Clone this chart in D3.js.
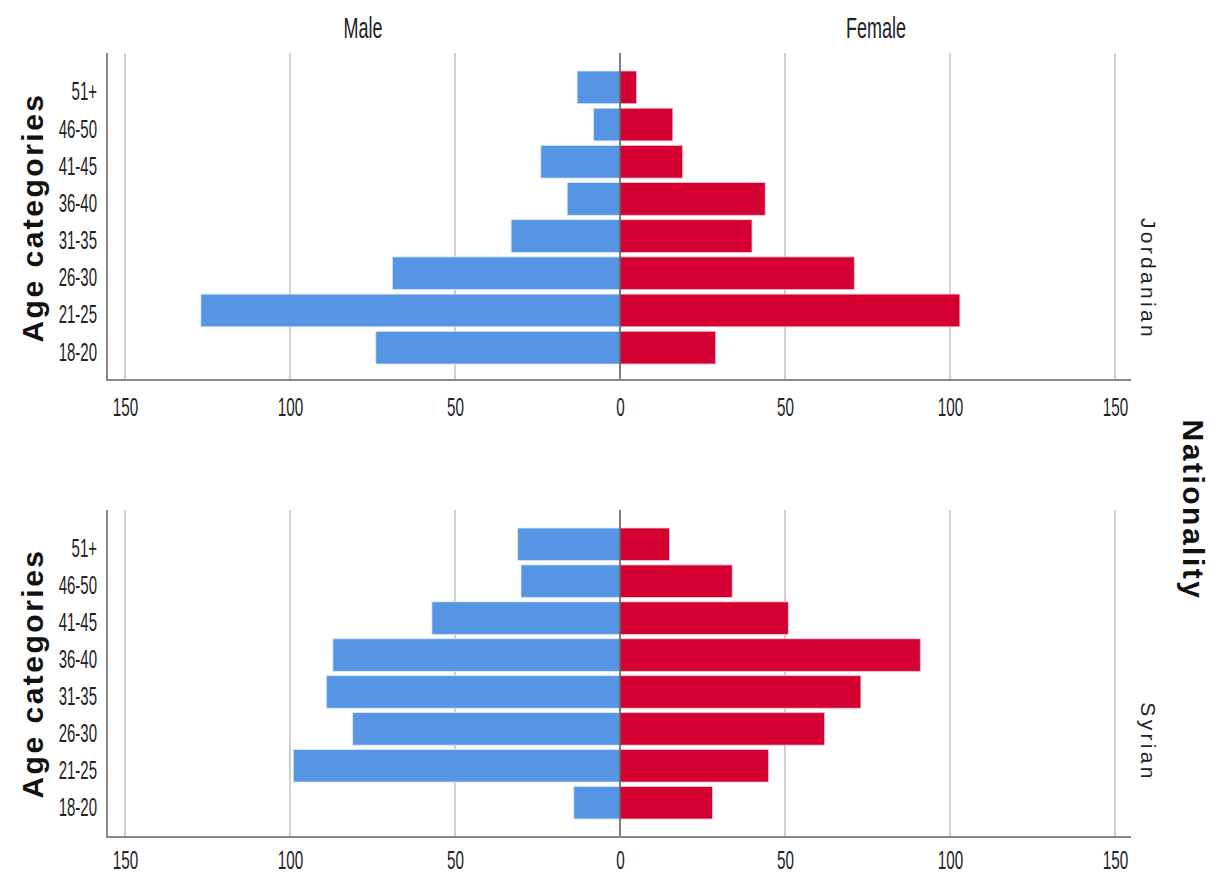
<!DOCTYPE html>
<html>
<head>
<meta charset="utf-8">
<script src="https://cdn.jsdelivr.net/npm/d3@7"></script>
<style>
  body { margin: 0; background: #fff; }
  svg { display: block; }
</style>
</head>
<body>
<svg id="chart" width="1211" height="875"></svg>
<script>
const ageCategories = ["51+", "46-50", "41-45", "36-40", "31-35", "26-30", "21-25", "18-20"];
const panels = ["Jordanian", "Syrian"];
const jordanianMale   = [13, 8, 24, 16, 33, 69, 127, 74];
const jordanianFemale = [5, 16, 19, 44, 40, 71, 103, 29];
const syrianMale      = [31, 30, 57, 87, 89, 81, 99, 14];
const syrianFemale    = [15, 34, 51, 91, 73, 62, 45, 28];
const tickValues = [-150, -100, -50, 0, 50, 100, 150];
const tickLabels = ["150", "100", "50", "0", "50", "100", "150"];
const sexLabels = ["Male", "Female"];

const maleData = [jordanianMale, syrianMale];
const femaleData = [jordanianFemale, syrianFemale];

const FONT = "Liberation Sans, Arial, sans-serif";
const svg = d3.select("#chart");
const blue = "#5595e4";
const red = "#d50032";

const x = d3.scaleLinear().domain([-150, 150]).range([125, 1115]);
const axisLeft = 107, axisRight = 1131;

// header labels (tall condensed look via horizontal scaling)
svg.selectAll("g.sex").data(sexLabels).enter().append("g")
  .attr("transform", (d, i) => `translate(${i === 0 ? 363 : 876},38)`)
  .append("text")
  .attr("transform", "scale(0.62,1)")
  .attr("text-anchor", "middle")
  .attr("font-family", FONT)
  .attr("font-size", 29)
  .attr("fill", "#222")
  .text(d => d);

const panelGeom = [
  { top: 53, bandTop: 71, bandBottom: 364, axisY: 380, labelY: 279, tickBase: 415.5 },
  { top: 510, bandTop: 528, bandBottom: 819, axisY: 837, labelY: 742, tickBase: 868.5 }
];

panels.forEach((name, p) => {
  const g = panelGeom[p];
  const y = d3.scaleBand().domain(ageCategories).range([g.bandTop, g.bandBottom]).paddingInner(0.12);
  const layer = svg.append("g");

  // gridlines
  layer.selectAll("line.grid").data(tickValues.filter(v => v !== 0)).enter().append("line")
    .attr("x1", d => x(d)).attr("x2", d => x(d))
    .attr("y1", g.top).attr("y2", g.axisY)
    .attr("stroke", "#cfcfcf").attr("stroke-width", 2);

  // male bars
  layer.selectAll("rect.male").data(maleData[p]).enter().append("rect")
    .attr("x", d => x(-d)).attr("width", d => x(0) - x(-d))
    .attr("y", (d, i) => y(ageCategories[i])).attr("height", y.bandwidth())
    .attr("fill", blue).attr("stroke", "#dbe8f8").attr("stroke-width", 0.8);

  // female bars
  layer.selectAll("rect.female").data(femaleData[p]).enter().append("rect")
    .attr("x", x(0)).attr("width", d => x(d) - x(0))
    .attr("y", (d, i) => y(ageCategories[i])).attr("height", y.bandwidth())
    .attr("fill", red).attr("stroke", "#f0c8d2").attr("stroke-width", 0.8);

  // zero line
  layer.append("line")
    .attr("x1", x(0)).attr("x2", x(0)).attr("y1", g.top).attr("y2", g.axisY)
    .attr("stroke", "#555").attr("stroke-width", 1.5);

  // axes lines
  layer.append("line").attr("x1", axisLeft).attr("x2", axisLeft).attr("y1", g.top).attr("y2", g.axisY)
    .attr("stroke", "#888").attr("stroke-width", 2);
  layer.append("line").attr("x1", axisLeft - 1).attr("x2", axisRight).attr("y1", g.axisY).attr("y2", g.axisY)
    .attr("stroke", "#888").attr("stroke-width", 2);

  // x tick labels
  const xAxis = d3.axisBottom(x).tickValues(tickValues).tickSize(0).tickPadding(0)
    .tickFormat((d, i) => tickLabels[i]);
  const xa = layer.append("g").attr("transform", `translate(0,${g.tickBase})`).call(xAxis);
  xa.select(".domain").remove();
  xa.selectAll("text")
    .attr("font-family", FONT).attr("font-size", 25).attr("fill", "#222")
    .attr("dy", 0).attr("transform", "scale(0.61,1)");

  // y tick labels
  const yAxis = d3.axisLeft(y).tickSize(0).tickPadding(0);
  const ya = layer.append("g").attr("transform", `translate(97,5)`).call(yAxis);
  ya.select(".domain").remove();
  ya.selectAll("text")
    .attr("font-family", FONT).attr("font-size", 25).attr("fill", "#222")
    .attr("transform", "scale(0.6,1)");

  // y title
  const cy = (g.bandTop + g.bandBottom) / 2;
  layer.append("text")
    .attr("transform", `translate(43,${cy}) rotate(-90)`)
    .attr("text-anchor", "middle")
    .attr("font-family", FONT)
    .attr("font-weight", "bold").attr("font-size", 30).attr("letter-spacing", 2.5).attr("fill", "#111")
    .text("Age categories");

  // panel label
  layer.append("text")
    .attr("transform", `translate(1141,${g.labelY}) rotate(90)`)
    .attr("text-anchor", "middle")
    .attr("font-family", FONT)
    .attr("font-size", 21).attr("letter-spacing", 3.3).attr("fill", "#222")
    .text(name);
});

svg.append("text")
  .attr("transform", `translate(1183,510) rotate(90)`)
  .attr("text-anchor", "middle")
  .attr("font-family", FONT)
  .attr("font-weight", "bold").attr("font-size", 30).attr("letter-spacing", 2.5).attr("fill", "#111")
  .text("Nationality");
</script>
</body>
</html>
